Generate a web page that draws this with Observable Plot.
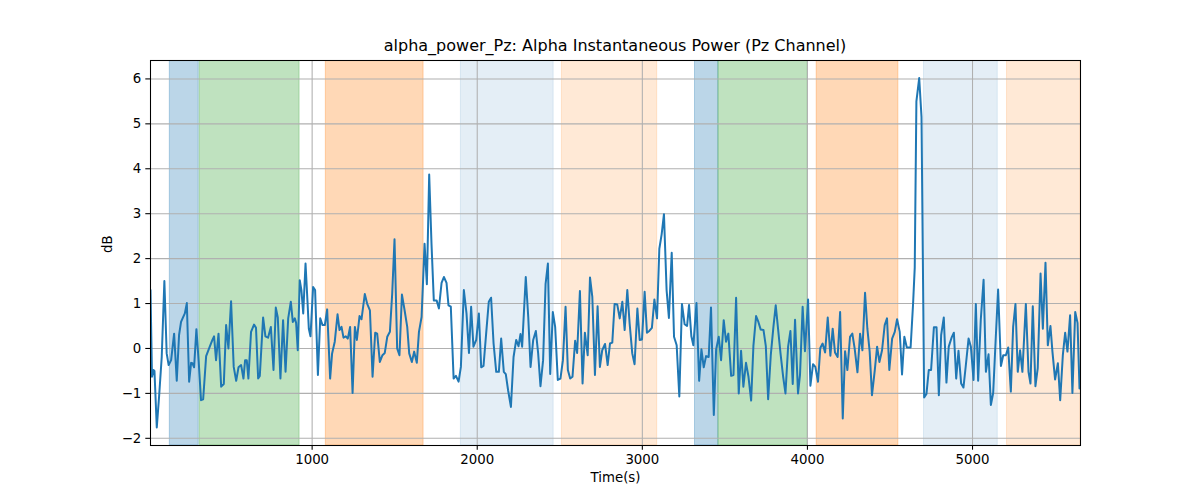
<!DOCTYPE html>
<html>
<head>
<meta charset="utf-8">
<script src="https://cdn.jsdelivr.net/npm/d3@7"></script>
<script src="https://cdn.jsdelivr.net/npm/@observablehq/plot@0.6"></script>
<style>
  html, body { margin: 0; padding: 0; background: #fff; }
  #title { height: 50px; width: 930px; margin-left: 150px; position: relative;
           font-family: "DejaVu Sans", sans-serif; font-size: 16px; color: #000; }
  #title span { position: absolute; left: 0; right: 0; top: 37px; text-align: center; line-height: 18px; white-space: nowrap; }
  #chart svg { display: block; }
</style>
</head>
<body>
<div id="title"><span>alpha_power_Pz: Alpha Instantaneous Power (Pz Channel)</span></div>
<div id="chart"></div>
<script>
const times = [21,30,39,45,59,73,89,105,119,131,146,164,180,194,206,218,229,241,255,267,275,285,299,313,327,340,358,380,396,406,418,433,449,465,479,493,509,525,540,554,570,584,594,604,614,630,648,660,673,683,703,717,733,750,766,780,792,808,824,839,855,871,883,895,903,913,925,935,946,960,972,980,990,1006,1018,1035,1049,1063,1077,1091,1109,1121,1137,1154,1166,1178,1190,1204,1216,1230,1245,1259,1271,1287,1299,1319,1333,1350,1366,1382,1394,1410,1426,1440,1455,1471,1485,1499,1515,1529,1544,1560,1576,1588,1604,1618,1634,1647,1663,1681,1695,1709,1723,1737,1754,1768,1784,1798,1814,1826,1840,1857,1871,1887,1901,1919,1935,1950,1963,1977,1994,2010,2024,2038,2054,2070,2084,2099,2115,2131,2145,2161,2173,2187,2204,2220,2236,2250,2262,2272,2294,2309,2323,2339,2355,2369,2383,2399,2414,2428,2442,2458,2472,2488,2504,2519,2535,2549,2563,2577,2593,2605,2622,2638,2652,2669,2683,2697,2713,2729,2743,2757,2774,2790,2804,2818,2832,2848,2863,2879,2893,2909,2923,2939,2953,2970,2984,2998,3014,3028,3042,3058,3073,3089,3103,3117,3131,3147,3161,3178,3192,3208,3224,3240,3256,3271,3283,3297,3309,3328,3344,3358,3372,3386,3402,3416,3433,3447,3463,3477,3493,3507,3521,3538,3552,3568,3584,3598,3612,3628,3643,3659,3673,3689,3703,3717,3734,3748,3762,3778,3794,3808,3822,3837,3853,3867,3883,3897,3911,3925,3943,3955,3971,3985,4004,4018,4034,4048,4064,4078,4092,4107,4123,4139,4153,4167,4183,4198,4214,4228,4242,4258,4272,4286,4303,4319,4333,4349,4363,4377,4391,4408,4422,4436,4452,4468,4482,4496,4513,4529,4543,4559,4573,4587,4602,4625,4640,4650,4660,4677,4691,4707,4721,4735,4749,4766,4782,4796,4810,4826,4842,4856,4873,4887,4901,4915,4931,4945,4959,4976,4990,5006,5020,5034,5050,5067,5081,5097,5111,5125,5141,5155,5172,5186,5202,5216,5232,5246,5260,5274,5288,5302,5323,5339,5351,5365,5381,5395,5412,5426,5442,5456,5472,5484,5500,5517,5531,5547,5561,5575,5591,5605,5622,5636,5648];
const power = [1.3,-0.63,-0.48,-0.50,-1.76,-1.07,-0.19,1.5,-0.11,-0.37,-0.26,0.33,-0.72,0.30,0.59,0.69,0.78,1.01,-0.74,-0.32,-0.33,-0.42,0.43,-0.30,-1.15,-1.13,-0.17,0.04,0.19,0.27,-0.26,0.33,-0.85,-0.79,0.52,0.00,1.05,-0.41,-0.72,-0.42,-0.37,-0.67,-0.26,-0.26,-0.67,0.37,0.53,0.46,-0.67,-0.61,0.69,0.27,0.24,0.48,-0.48,0.91,0.69,-0.67,0.63,-0.52,0.67,1.04,0.59,0.67,0.57,-0.04,1.52,1.30,0.78,1.89,1.04,0.44,0.27,1.37,1.30,-0.59,0.67,0.52,0.52,0.87,-0.67,-0.11,0.15,0.76,0.41,0.48,0.24,0.27,0.22,0.48,-0.99,0.48,0.19,0.72,0.65,1.21,1.00,0.85,-0.63,0.35,0.33,-0.30,-0.15,-0.10,0.26,0.37,1.22,2.43,0.00,-0.15,1.20,0.85,0.48,-0.11,-0.30,-0.07,-0.32,0.37,0.70,2.33,1.43,3.87,2.33,1.07,1.07,0.89,1.46,1.59,1.46,0.96,0.93,-0.67,-0.61,-0.74,-0.41,1.30,0.78,-0.10,0.93,0.04,0.19,0.78,-0.42,-0.39,0.33,1.04,1.13,0.11,-0.52,-0.52,0.22,-0.52,-0.57,-0.93,-1.30,-0.19,0.19,0.05,0.32,0.04,1.59,0.70,-0.41,0.19,0.39,-0.11,-0.84,-0.26,1.44,1.89,-0.57,0.81,0.48,-0.70,-0.67,-0.26,0.93,-0.48,-0.67,-0.63,0.17,-0.10,1.28,-0.78,0.35,-0.15,1.58,1.15,-0.59,0.94,-0.41,-0.04,0.10,-0.37,0.11,0.13,0.99,0.98,0.67,1.04,0.41,1.30,0.56,-0.11,-0.35,0.89,0.19,0.20,1.26,0.35,0.39,0.46,1.09,0.67,2.22,2.54,2.99,1.30,0.68,2.13,0.26,0.07,-1.07,0.99,0.54,0.50,0.97,0.27,0.07,1.01,-0.72,-0.02,-0.42,-0.17,-0.19,0.91,-1.48,-0.02,0.26,-0.26,0.63,0.15,0.33,-0.61,-0.59,1.13,-1.00,-0.05,-0.85,-0.32,-0.63,-1.16,0.07,0.72,0.59,0.42,0.41,0.05,-1.13,-0.15,0.48,0.96,0.44,-0.11,-0.63,-1.00,0.04,0.39,-0.79,0.64,-1.00,-0.59,0.93,-0.06,1.09,-0.83,-0.35,-0.41,-0.74,0.01,0.11,-0.09,0.69,-0.16,0.44,-0.09,-0.19,0.81,-1.56,-0.06,-0.48,0.26,0.33,0.00,-0.53,0.33,-0.04,1.24,0.44,-0.07,-1.04,-0.48,0.04,-0.30,-0.04,0.52,0.67,-0.48,0.22,0.37,0.65,0.37,-0.58,0.26,0.02,0.02,1.00,1.80,5.50,6.02,5.15,-1.09,-1.01,-0.48,-0.48,0.47,0.47,-1.04,0.30,0.69,-0.76,0.04,0.24,0.35,-0.67,-0.05,-0.78,-0.87,-0.39,0.22,0.04,-0.70,0.99,-0.72,0.64,1.53,-0.52,-0.13,-1.26,-0.99,0.26,1.31,-0.39,-0.15,-0.15,0.02,-0.96,0.48,0.99,-0.52,-0.04,-0.52,0.99,-0.52,-0.78,0.94,-0.84,-0.44,1.67,0.44,1.91,0.07,0.50,-0.07,-0.69,-0.33,-1.15,-0.15,0.35,-0.07,0.74,-0.99,0.81,0.57,-0.89];

const spanStart = [138, 319, 1083, 1901, 2513, 3319, 3461, 4056, 4706, 5209];
const spanEnd   = [313, 924, 1675, 2463, 3090, 3461, 4002, 4551, 5153, 5654];
const spanKind  = ["blue", "green", "orange", "lightblue", "lightorange", "blue", "green", "orange", "lightblue", "lightorange"];

const xTicks = [1000, 2000, 3000, 4000, 5000];
const yTicks = [-2, -1, 0, 1, 2, 3, 4, 5, 6];
const xDomain = [21, 5654];
const yDomain = [-2.16, 6.41];

const kindStyle = {
  blue:        {color: "#1f77b4", opacity: 0.3},
  green:       {color: "#2ca02c", opacity: 0.3},
  orange:      {color: "#ff7f0e", opacity: 0.3},
  lightblue:   {color: "#1f77b4", opacity: 0.12},
  lightorange: {color: "#ff7f0e", opacity: 0.17}
};

const series = times.map((t, i) => ({t, v: power[i]}));
const spans = spanStart.map((s, i) => ({x1: s, x2: spanEnd[i], kind: spanKind[i]}));

const spanMarks = Object.keys(kindStyle).map(k =>
  Plot.rect(spans.filter(d => d.kind === k), {
    x1: "x1", x2: "x2",
    fill: kindStyle[k].color, fillOpacity: kindStyle[k].opacity,
    stroke: kindStyle[k].color, strokeOpacity: kindStyle[k].opacity, strokeWidth: 1,
    clip: true
  })
);

const chart = Plot.plot({
  width: 1200,
  height: 450,
  marginLeft: 150,
  marginRight: 120,
  marginTop: 10,
  marginBottom: 55,
  style: {fontFamily: "DejaVu Sans, sans-serif", fontSize: "13.33px", color: "#000", background: "#fff"},
  x: {domain: xDomain},
  y: {domain: yDomain},
  marks: [
    ...spanMarks,
    Plot.gridX(xTicks, {stroke: "#b0b0b0", strokeOpacity: 1, strokeWidth: 1.07}),
    Plot.gridY(yTicks, {stroke: "#b0b0b0", strokeOpacity: 1, strokeWidth: 1.07}),
    Plot.line(series, {x: "t", y: "v", stroke: "#1f77b4", strokeWidth: 2, clip: true}),
    Plot.frame({stroke: "#000", strokeWidth: 1.07}),
    Plot.axisX({ticks: xTicks, tickSize: 4.7, tickPadding: 4.5, tickFormat: d => String(d), label: null, fontSize: 13.33, strokeWidth: 1.07}),
    Plot.axisY({ticks: yTicks, tickSize: 4.7, tickPadding: 4.5, tickFormat: d => d < 0 ? "\u2212" + Math.abs(d) : String(d), label: null, fontSize: 13.33, strokeWidth: 1.07}),
    Plot.text(["Time(s)"], {frameAnchor: "bottom", dy: 36, fontSize: 13.33, fill: "#000"}),
    Plot.text(["dB"], {frameAnchor: "left", dx: -43, rotate: -90, fontSize: 13.33, fill: "#000"})
  ]
});
document.getElementById("chart").appendChild(chart);
</script>
</body>
</html>
